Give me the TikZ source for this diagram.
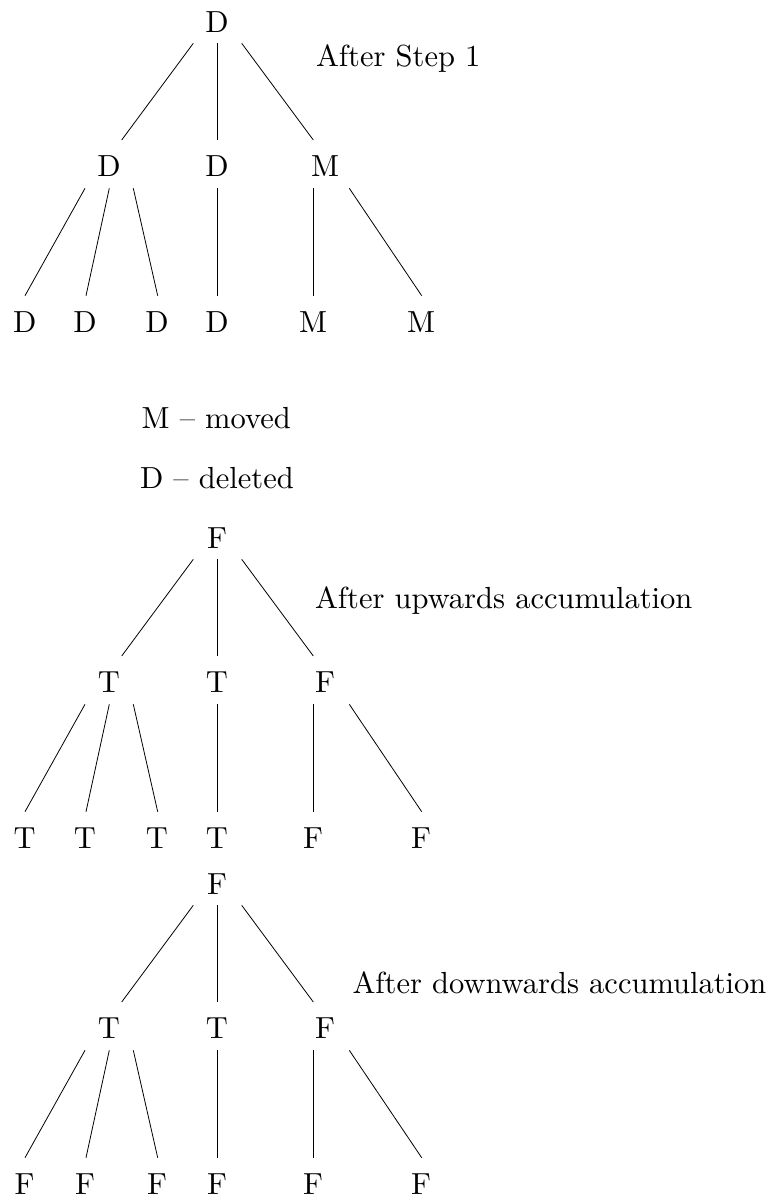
\documentclass[tikz,border=0pt]{standalone}
\usepackage{fontspec}
\setmainfont{lmroman10-regular}[Extension=.otf]
\begin{document}
\begin{tikzpicture}[x=1pt,y=-1pt,
  lab/.style={inner sep=0pt,outer sep=0pt,anchor=base,font=\fontsize{30.5}{36}\selectfont},
  txt/.style={inner sep=0pt,outer sep=0pt,anchor=base west,font=\fontsize{30.5}{36}\selectfont},
  edge/.style={line width=0.8pt}]
\useasboundingbox (0,0) rectangle (777,1201);
\foreach \t/\dy/\R/\A/\B/\C/\La/\Lb/\Lc/\Ld/\Le/\Lf in
  {1/0/D/D/D/M/D/D/D/D/M/M,
   2/516/F/T/T/F/T/T/T/T/F/F,
   3/862/F/T/T/F/F/F/F/F/F/F}{
  \node[lab] (t\t-r) at (217,32.7+\dy) {\R};
  \node[lab] (t\t-a) at (109,176.7+\dy) {\A};
  \node[lab] (t\t-b) at (217,176.7+\dy) {\B};
  \node[lab] (t\t-c) at (325,176.7+\dy) {\C};
  \node[lab] (t\t-l1) at (24.7,332.7+\dy) {\La};
  \node[lab] (t\t-l2) at (85,332.7+\dy) {\Lb};
  \node[lab] (t\t-l3) at (157,332.7+\dy) {\Lc};
  \node[lab] (t\t-l4) at (217,332.7+\dy) {\Ld};
  \node[lab] (t\t-l5) at (313,332.7+\dy) {\Le};
  \node[lab] (t\t-l6) at (421,332.7+\dy) {\Lf};
  \draw[edge] ([shift={(-23.7,10.6)}]t\t-r.base) -- ([shift={(12.7,-36.7)}]t\t-a.base);
  \draw[edge] ([shift={(0.3,10.6)}]t\t-r.base) -- ([shift={(0.3,-36.7)}]t\t-b.base);
  \draw[edge] ([shift={(24.7,10.6)}]t\t-r.base) -- ([shift={(-11.7,-36.7)}]t\t-c.base);
  \draw[edge] ([shift={(-24,11.6)}]t\t-a.base) -- ([shift={(0.3,-37)}]t\t-l1.base);
  \draw[edge] ([shift={(0.3,11.6)}]t\t-a.base) -- ([shift={(1,-37)}]t\t-l2.base);
  \draw[edge] ([shift={(24.3,11.6)}]t\t-a.base) -- ([shift={(0.7,-37)}]t\t-l3.base);
  \draw[edge] ([shift={(0.3,11.6)}]t\t-b.base) -- ([shift={(0.3,-37)}]t\t-l4.base);
  \draw[edge] ([shift={(-11.7,11.6)}]t\t-c.base) -- ([shift={(0.3,-37)}]t\t-l5.base);
  \draw[edge] ([shift={(24.3,11.6)}]t\t-c.base) -- ([shift={(0.7,-37)}]t\t-l6.base);
}
\node[txt] (cap1) at (316,66.7) {After Step 1};
\node[txt] (moved) at (141.7,428.3) {M -- moved};
\node[txt] (deleted) at (140,488.3) {D -- deleted};
\node[txt] (cap2) at (315,608.3) {After upwards accumulation};
\node[txt] (cap3) at (352.5,993) {After downwards accumulation};
\end{tikzpicture}
\end{document}
